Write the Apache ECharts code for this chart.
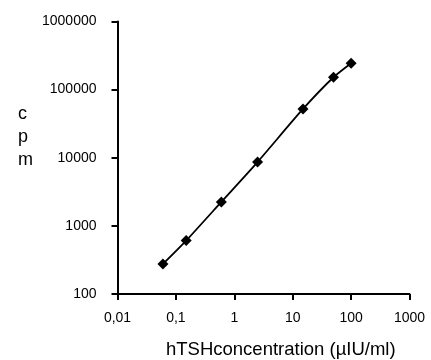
<!DOCTYPE html>
<html>
<head>
<meta charset="utf-8">
<script src="https://cdn.jsdelivr.net/npm/echarts@6/dist/echarts.min.js"></script>
<style>
  html, body { margin: 0; padding: 0; background: #fff; }
  #chart { width: 431px; height: 360px; }
</style>
</head>
<body>
<div id="chart"></div>
<script>
// hTSH standard curve (log-log)
const concentration = [0.06, 0.15, 0.6, 2.5, 15, 50, 100];
const cpm = [276, 608, 2250, 8650, 52000, 152000, 244000];
const xTickLabels = ["0,01", "0,1", "1", "10", "100", "1000"];
const yTickLabels = ["100", "1000", "10000", "100000", "1000000"];

const FONT = "'Liberation Sans', Arial, sans-serif";
const chart = echarts.init(document.getElementById("chart"), null, { renderer: "canvas" });

const axisCommon = {
  type: "log",
  logBase: 10,
  splitLine: { show: false },
  minorTick: { show: false },
  axisLine: { lineStyle: { color: "#000", width: 2 } },
  axisTick: { show: true, inside: false, length: 6, lineStyle: { color: "#000", width: 2 } },
};

chart.setOption({
  animation: false,
  grid: { left: 117.5, right: 21.5, top: 21.5, bottom: 66, containLabel: false },
  xAxis: {
    ...axisCommon,
    min: 0.01,
    max: 1000,
    axisLabel: {
      color: "#000",
      fontFamily: FONT,
      fontSize: 14,
      margin: 17,
      showMinLabel: true,
      showMaxLabel: true,
      formatter: (v, i) => xTickLabels[i] ?? "",
    },
  },
  yAxis: {
    ...axisCommon,
    min: 100,
    max: 1000000,
    axisLabel: {
      color: "#000",
      fontFamily: FONT,
      fontSize: 14,
      margin: 21,
      showMinLabel: true,
      showMaxLabel: true,
      formatter: (v, i) => yTickLabels[i] ?? "",
    },
  },
  graphic: [
    {
      type: "text",
      left: 18,
      top: 103,
      style: {
        text: "c\np\nm",
        font: "18px " + FONT,
        lineHeight: 23,
        fill: "#000",
      },
    },
    {
      type: "text",
      left: 166,
      top: 340,
      style: {
        text: "hTSHconcentration (µIU/ml)",
        font: "18.5px " + FONT,
        fill: "#000",
      },
    },
  ],
  series: [
    {
      type: "line",
      data: concentration.map((c, i) => [c, cpm[i]]),
      smooth: 0.2,
      symbol: "diamond",
      symbolSize: 11,
      showSymbol: true,
      itemStyle: { color: "#000" },
      lineStyle: { color: "#000", width: 1.8 },
    },
  ],
});
</script>
</body>
</html>
